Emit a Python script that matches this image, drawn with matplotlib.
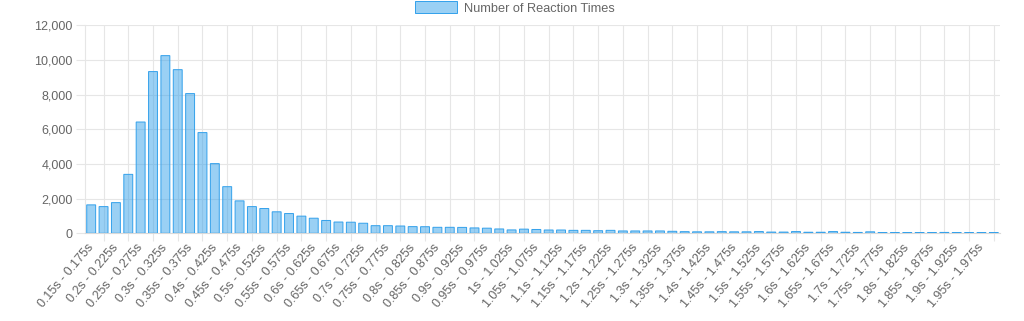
import matplotlib
matplotlib.use("Agg")
import matplotlib.pyplot as plt
from matplotlib.patches import Patch
from matplotlib.ticker import FuncFormatter, FixedLocator
import numpy as np

plt.rcParams['font.family'] = ['Liberation Sans', 'DejaVu Sans']

labels = [
    "0.15s - 0.175s", "0.175s - 0.2s", "0.2s - 0.225s", "0.225s - 0.25s",
    "0.25s - 0.275s", "0.275s - 0.3s", "0.3s - 0.325s", "0.325s - 0.35s",
    "0.35s - 0.375s", "0.375s - 0.4s", "0.4s - 0.425s", "0.425s - 0.45s",
    "0.45s - 0.475s", "0.475s - 0.5s", "0.5s - 0.525s", "0.525s - 0.55s",
    "0.55s - 0.575s", "0.575s - 0.6s", "0.6s - 0.625s", "0.625s - 0.65s",
    "0.65s - 0.675s", "0.675s - 0.7s", "0.7s - 0.725s", "0.725s - 0.75s",
    "0.75s - 0.775s", "0.775s - 0.8s", "0.8s - 0.825s", "0.825s - 0.85s",
    "0.85s - 0.875s", "0.875s - 0.9s", "0.9s - 0.925s", "0.925s - 0.95s",
    "0.95s - 0.975s", "0.975s - 1s", "1s - 1.025s", "1.025s - 1.05s",
    "1.05s - 1.075s", "1.075s - 1.1s", "1.1s - 1.125s", "1.125s - 1.15s",
    "1.15s - 1.175s", "1.175s - 1.2s", "1.2s - 1.225s", "1.225s - 1.25s",
    "1.25s - 1.275s", "1.275s - 1.3s", "1.3s - 1.325s", "1.325s - 1.35s",
    "1.35s - 1.375s", "1.375s - 1.4s", "1.4s - 1.425s", "1.425s - 1.45s",
    "1.45s - 1.475s", "1.475s - 1.5s", "1.5s - 1.525s", "1.525s - 1.55s",
    "1.55s - 1.575s", "1.575s - 1.6s", "1.6s - 1.625s", "1.625s - 1.65s",
    "1.65s - 1.675s", "1.675s - 1.7s", "1.7s - 1.725s", "1.725s - 1.75s",
    "1.75s - 1.775s", "1.775s - 1.8s", "1.8s - 1.825s", "1.825s - 1.85s",
    "1.85s - 1.875s", "1.875s - 1.9s", "1.9s - 1.925s", "1.925s - 1.95s",
    "1.95s - 1.975s", "1.975s - 2s",
]

counts = [
    1640, 1540, 1770, 3400, 6420, 9330, 10250, 9440, 8060, 5810, 4020, 2690,
    1870, 1540, 1430, 1240, 1140, 990, 870, 740, 650, 640, 580, 440,
    440, 420, 385, 380, 345, 345, 340, 310, 295, 250, 195, 240,
    220, 190, 190, 170, 170, 150, 170, 135, 135, 135, 135, 115,
    95, 85, 85, 95, 85, 85, 100, 70, 70, 100, 60, 60,
    100, 60, 50, 85, 45, 45, 45, 45, 45, 50, 45, 45,
    40, 40,
]

series_name = "Number of Reaction Times"
y_ticks = [0, 2000, 4000, 6000, 8000, 10000, 12000]

W, H = 1024, 321
fig = plt.figure(figsize=(W / 100, H / 100), dpi=100)
left, right, top, base = 85, 1000, 25.3, 233.3
ax = fig.add_axes([left / W, (H - base) / H, (right - left) / W, (base - top) / H])

grid_c = '#e6e6e6'
text_c = '#666666'
fill_c = (54 / 255, 162 / 255, 235 / 255, 0.5)
edge_c = '#36a2eb'

x = np.arange(len(counts))
ax.bar(x, counts, width=0.72, color=fill_c, edgecolor=edge_c, linewidth=0.72,
       zorder=3, snap=False)

ax.set_xlim(-0.5, len(counts) - 0.5)
ax.set_ylim(0, 12000)

# y axis
ax.set_yticks(y_ticks)
ax.yaxis.set_major_formatter(FuncFormatter(lambda v, p: f"{int(v):,}"))
ax.tick_params(axis='y', length=6.5, width=0.8, color=grid_c, pad=2.2,
               labelsize=9, labelcolor=text_c)
ax.yaxis.grid(True, color=grid_c, linewidth=0.8, zorder=0)

# x axis: labels every other category, grid lines between shown labels
shown = x[::2]
ax.xaxis.set_major_locator(FixedLocator(shown))
ax.set_xticklabels([labels[i] for i in shown], rotation=50, ha='right',
                   rotation_mode='anchor', va='center')
ax.tick_params(axis='x', which='major', length=0, pad=9, labelsize=9, labelcolor=text_c)
ax.xaxis.set_minor_locator(FixedLocator(x[1::2]))
ax.tick_params(axis='x', which='minor', length=6, width=0.8, color=grid_c)
ax.xaxis.grid(True, which='minor', color=grid_c, linewidth=0.8, zorder=0)
ax.xaxis.grid(False, which='major')
ax.set_axisbelow(True)

for s in ['top', 'right']:
    ax.spines[s].set_visible(False)
ax.spines['left'].set_color(grid_c)
ax.spines['left'].set_linewidth(0.8)
ax.spines['bottom'].set_color('#d9d9d9')
ax.spines['bottom'].set_linewidth(0.8)

handle = Patch(facecolor=fill_c, edgecolor=edge_c, linewidth=0.72)
fig.legend([handle], [series_name], loc='center', bbox_to_anchor=(515 / W, 1 - 8 / H),
           frameon=False, fontsize=9.2, labelcolor=text_c, handlelength=3.33,
           handleheight=1.0, handletextpad=0.55, borderpad=0, borderaxespad=0)

fig.savefig('out.png', dpi=100, facecolor='white')
